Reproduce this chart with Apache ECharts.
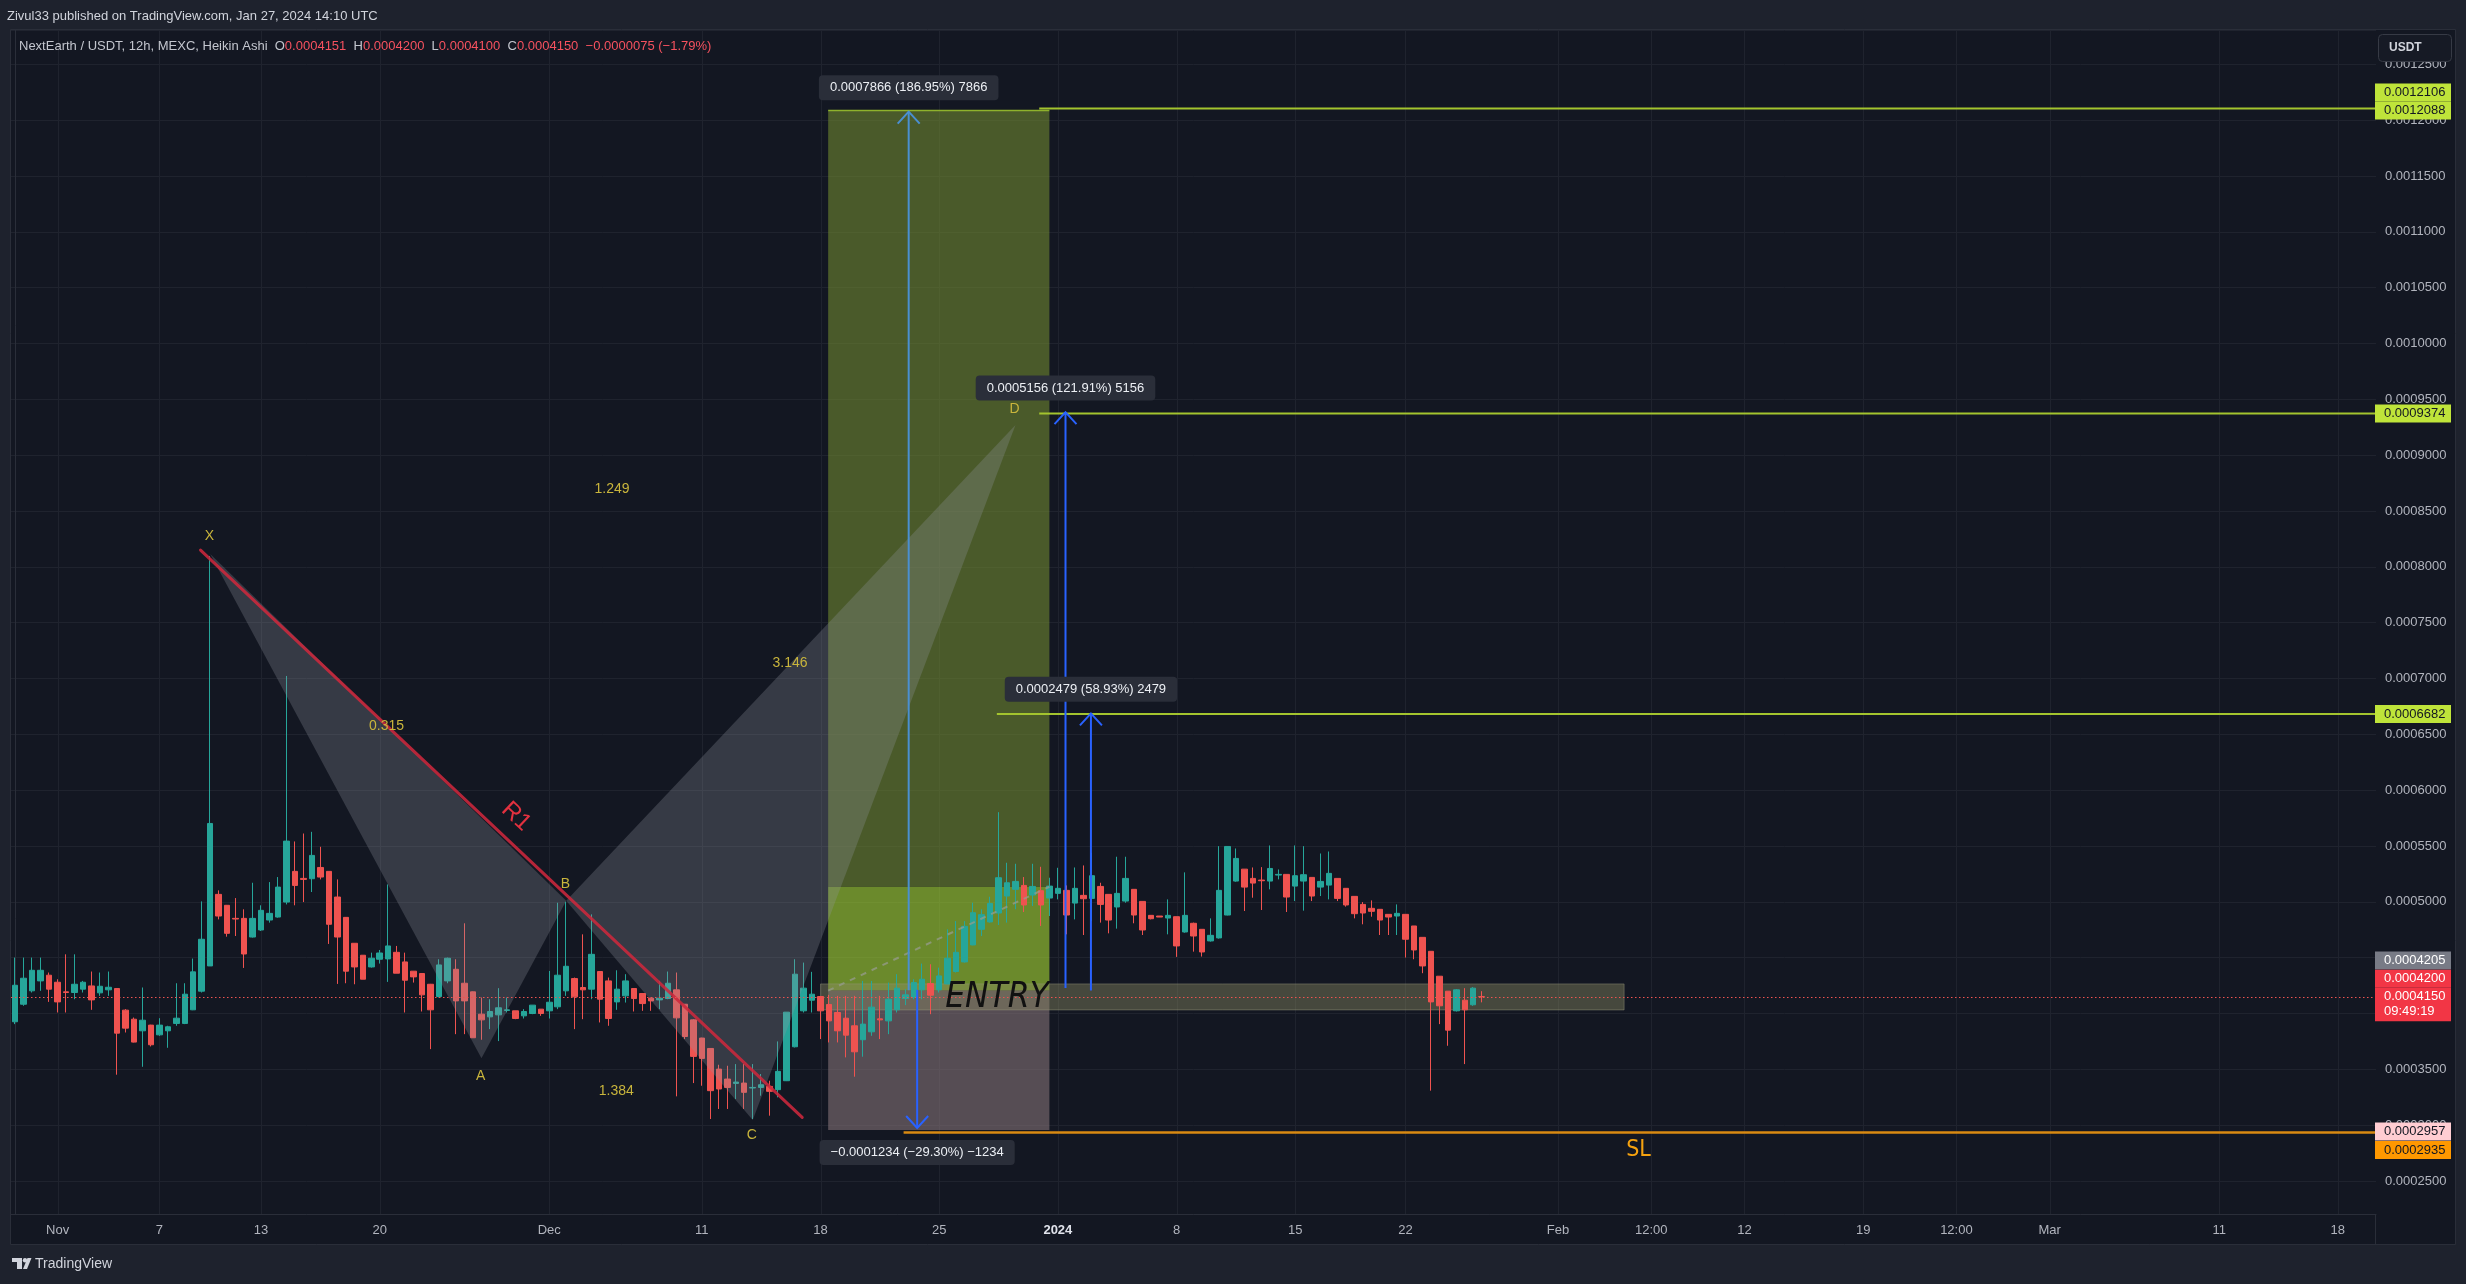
<!DOCTYPE html>
<html><head><meta charset="utf-8">
<script src="https://cdn.jsdelivr.net/npm/echarts@6/dist/echarts.min.js"></script>
<style>html,body{margin:0;padding:0;background:#1e222d;}#c{width:2466px;height:1284px;}</style>
</head><body><div id="c"></div>
<script>
// ---------- DATA (12h Heikin Ashi candles, NextEarth / USDT) ----------
const haOpen = [
0.0003926,0.0004083,0.0004203,0.0004292,0.0004343,0.0004280,0.0004194,0.0004188,0.0004218,0.0004247,
0.0004185,0.0004212,0.0004224,0.0004030,0.0003949,0.0003845,0.0003896,0.0003809,0.0003845,0.0003911,
0.0003911,0.0004033,0.0004200,0.0004426,0.0005067,0.0004969,0.0004852,0.0004852,0.0004685,0.0004748,
0.0004837,0.0004864,0.0004998,0.0005273,0.0005210,0.0005207,0.0005308,0.0005273,0.0005043,0.0004861,
0.0004629,0.0004522,0.0004417,0.0004486,0.0004489,0.0004548,0.0004462,0.0004379,0.0004358,0.0004262,
0.0004152,0.0004292,0.0004396,0.0004271,0.0004194,0.0003994,0.0003970,0.0003988,0.0004027,0.0004024,
0.0003979,0.0004000,0.0004039,0.0004024,0.0004060,0.0004203,0.0004313,0.0004233,0.0004218,0.0004376,
0.0004292,0.0004104,0.0004158,0.0004224,0.0004179,0.0004137,0.0004122,0.0004134,0.0004212,0.0004083,
0.0003943,0.0003780,0.0003687,0.0003502,0.0003413,0.0003374,0.0003377,0.0003333,0.0003338,0.0003347,
0.0003318,0.0003398,0.0003702,0.0004024,0.0004119,0.0004152,0.0004081,0.0004009,0.0003958,0.0003890,
0.0003765,0.0003836,0.0003952,0.0003934,0.0004033,0.0004134,0.0004143,0.0004212,0.0004268,0.0004212,
0.0004265,0.0004376,0.0004462,0.0004614,0.0004754,0.0004820,0.0004900,0.0005052,0.0005112,0.0005147,
0.0005061,0.0005100,0.0005034,0.0005076,0.0005103,0.0004989,0.0005058,0.0005031,0.0005138,0.0005067,
0.0004954,0.0005007,0.0005112,0.0005004,0.0004879,0.0004873,0.0004855,0.0004867,0.0004730,0.0004808,
0.0004754,0.0004650,0.0004677,0.0004882,0.0005186,0.0005293,0.0005210,0.0005195,0.0005186,0.0005240,
0.0005246,0.0005141,0.0005186,0.0005219,0.0005132,0.0005150,0.0005210,0.0005121,0.0005049,0.0004977,
0.0004942,0.0004933,0.0004888,0.0004873,0.0004888,0.0004784,0.0004682,0.0004557,0.0004334,0.0004200,
0.0004024,0.0004119,0.0004078,0.0004151];
const haClose = [
0.0004253,0.0004316,0.0004387,0.0004387,0.0004218,0.0004104,0.0004188,0.0004262,0.0004280,0.0004122,
0.0004244,0.0004235,0.0003824,0.0003869,0.0003744,0.0003940,0.0003720,0.0003896,0.0003881,0.0003958,
0.0004173,0.0004373,0.0004665,0.0005702,0.0004873,0.0004718,0.0004846,0.0004533,0.0004852,0.0004924,
0.0004897,0.0005132,0.0005544,0.0005147,0.0005201,0.0005416,0.0005222,0.0004799,0.0004685,0.0004379,
0.0004417,0.0004307,0.0004495,0.0004542,0.0004605,0.0004361,0.0004298,0.0004328,0.0004167,0.0004033,
0.0004435,0.0004495,0.0004113,0.0004113,0.0003783,0.0003943,0.0004018,0.0004051,0.0004033,0.0003955,
0.0004018,0.0004075,0.0004000,0.0004101,0.0004343,0.0004423,0.0004149,0.0004212,0.0004530,0.0004128,
0.0003955,0.0004218,0.0004292,0.0004134,0.0004089,0.0004113,0.0004137,0.0004271,0.0003961,0.0003794,
0.0003616,0.0003598,0.0003309,0.0003324,0.0003338,0.0003386,0.0003294,0.0003338,0.0003362,0.0003303,
0.0003482,0.0004012,0.0004352,0.0004227,0.0004173,0.0004024,0.0003934,0.0003845,0.0003806,0.0003657,
0.0003905,0.0004057,0.0003943,0.0004128,0.0004227,0.0004167,0.0004277,0.0004307,0.0004164,0.0004337,
0.0004495,0.0004548,0.0004781,0.0004903,0.0004885,0.0004986,0.0005216,0.0005171,0.0005183,0.0004972,
0.0005138,0.0004972,0.0005141,0.0005121,0.0004882,0.0005121,0.0005028,0.0005234,0.0004977,0.0004837,
0.0005076,0.0005210,0.0004882,0.0004748,0.0004849,0.0004864,0.0004879,0.0004605,0.0004879,0.0004694,
0.0004551,0.0004700,0.0005103,0.0005496,0.0005389,0.0005132,0.0005168,0.0005189,0.0005299,0.0005246,
0.0005043,0.0005234,0.0005243,0.0005052,0.0005183,0.0005255,0.0005031,0.0004972,0.0004894,0.0004900,
0.0004915,0.0004837,0.0004864,0.0004897,0.0004665,0.0004569,0.0004426,0.0004104,0.0004069,0.0003851,
0.0004212,0.0004033,0.0004227,0.0004150];
const haLow = [
0.0003905,0.0004069,0.0004188,0.0004203,0.0004104,0.0004009,0.0004009,0.0004128,0.0004188,0.0004033,
0.0004158,0.0004158,0.0003452,0.0003830,0.0003741,0.0003523,0.0003705,0.0003800,0.0003693,0.0003890,
0.0003905,0.0004030,0.0004188,0.0004426,0.0004843,0.0004688,0.0004694,0.0004408,0.0004680,0.0004739,
0.0004814,0.0004858,0.0004977,0.0004969,0.0004998,0.0005088,0.0005201,0.0004623,0.0004265,0.0004271,
0.0004262,0.0004307,0.0004411,0.0004447,0.0004283,0.0004361,0.0004009,0.0004277,0.0004018,0.0003681,
0.0004143,0.0004271,0.0003815,0.0003815,0.0003783,0.0003765,0.0003860,0.0003753,0.0004009,0.0003949,
0.0003955,0.0003994,0.0003979,0.0003955,0.0004039,0.0004158,0.0003860,0.0003949,0.0004128,0.0003920,
0.0003890,0.0004033,0.0004098,0.0004018,0.0004024,0.0004024,0.0004039,0.0004128,0.0003258,0.0003771,
0.0003377,0.0003353,0.0003055,0.0003145,0.0003145,0.0003234,0.0003145,0.0003055,0.0003264,0.0003085,
0.0003249,0.0003395,0.0003696,0.0004009,0.0004009,0.0003771,0.0003741,0.0003741,0.0003607,0.0003434,
0.0003613,0.0003800,0.0003771,0.0003815,0.0004009,0.0004075,0.0004128,0.0004128,0.0003994,0.0004188,
0.0004262,0.0004367,0.0004456,0.0004611,0.0004694,0.0004814,0.0004793,0.0004814,0.0004933,0.0004909,
0.0004963,0.0004784,0.0004873,0.0005022,0.0004709,0.0004843,0.0004703,0.0004828,0.0004814,0.0004718,
0.0004760,0.0004992,0.0004808,0.0004703,0.0004843,0.0004864,0.0004709,0.0004507,0.0004724,0.0004554,
0.0004510,0.0004644,0.0004671,0.0004879,0.0005180,0.0004918,0.0005037,0.0004927,0.0005112,0.0005201,
0.0004909,0.0005007,0.0004921,0.0005007,0.0005052,0.0005022,0.0005007,0.0004957,0.0004852,0.0004799,
0.0004867,0.0004703,0.0004703,0.0004703,0.0004501,0.0004486,0.0004361,0.0003309,0.0003905,0.0003711,
0.0004018,0.0003547,0.0004069,0.0004100];
const haHigh = [
0.0004501,0.0004501,0.0004501,0.0004501,0.0004367,0.0004307,0.0004530,0.0004530,0.0004292,0.0004376,
0.0004367,0.0004376,0.0004227,0.0004039,0.0003964,0.0004233,0.0003899,0.0003958,0.0003890,0.0004271,
0.0004271,0.0004492,0.0005004,0.0008097,0.0005103,0.0004972,0.0005034,0.0004933,0.0005171,0.0004969,
0.0005177,0.0005222,0.0007023,0.0005541,0.0005612,0.0005627,0.0005493,0.0005273,0.0005201,0.0004864,
0.0004629,0.0004522,0.0004545,0.0004569,0.0005156,0.0004605,0.0004545,0.0004379,0.0004361,0.0004265,
0.0004486,0.0004501,0.0004486,0.0004808,0.0004197,0.0004143,0.0004128,0.0004227,0.0004143,0.0004024,
0.0004039,0.0004075,0.0004039,0.0004381,0.0004992,0.0005001,0.0004322,0.0004709,0.0004888,0.0004376,
0.0004322,0.0004387,0.0004352,0.0004224,0.0004182,0.0004143,0.0004292,0.0004376,0.0004367,0.0004083,
0.0003949,0.0003783,0.0003687,0.0003541,0.0003532,0.0003547,0.0003547,0.0003547,0.0003458,0.0003398,
0.0003750,0.0004012,0.0004486,0.0004456,0.0004373,0.0004152,0.0004167,0.0004158,0.0004158,0.0004158,
0.0004292,0.0004292,0.0004158,0.0004277,0.0004352,0.0004218,0.0004307,0.0004447,0.0004441,0.0004411,
0.0004754,0.0004828,0.0004828,0.0004992,0.0004933,0.0005046,0.0005803,0.0005350,0.0005341,0.0005222,
0.0005341,0.0005314,0.0005216,0.0005305,0.0005147,0.0005308,0.0005326,0.0005439,0.0005171,0.0005067,
0.0005404,0.0005404,0.0005112,0.0005004,0.0004879,0.0004873,0.0005022,0.0004867,0.0005264,0.0004814,
0.0004754,0.0004852,0.0005499,0.0005496,0.0005478,0.0005293,0.0005308,0.0005311,0.0005505,0.0005290,
0.0005246,0.0005505,0.0005499,0.0005219,0.0005433,0.0005451,0.0005210,0.0005121,0.0005049,0.0004998,
0.0005013,0.0004933,0.0004888,0.0004977,0.0004888,0.0004784,0.0004682,0.0004557,0.0004334,0.0004200,
0.0004218,0.0004227,0.0004236,0.0004200];

// time scale: 12h bar slots (data + future space)
const N_SLOTS = 279;
const xTickIndex  = [5,17,29,43,63,81,95,109,123,137,151,164,182,193,204,218,229,240,260,274];
const xTickLabels = ['Nov','7','13','20','Dec','11','18','25','2024','8','15','22','Feb','12:00','12','19','12:00','Mar','11','18'];
const yMin = 0.00022044, yMax = 0.00128081;

// XABCD pattern, anchors as [bar index, price]
const patternNames = ['X','A','B','C','D'];
const patternPoints = [[23,0.0008115],[55,0.0003600],[65,0.0005010],[87,0.0003046],[118,0.0009270]];
const patternLabelPoints = [[22.9,0.0008276],[54.9,0.0003440],[64.9,0.0005160],[86.9,0.0002907],[117.9,0.0009411]];
const ratioTexts = ['0.315','1.249','1.384','3.146'];
const ratioPoints = [[43.8,0.0006575],[70.4,0.0008697],[70.9,0.0003306],[91.4,0.0007136]];
// trend line R1
const r1Line = [[21.86,0.000815],[92.84,0.000307]];
// long position tool
const positionBars = [95.9, 122.0];
const entryPrice = 0.0004205, targetPrice = 0.0012088, stopPrice = 0.0002957, closePrice = 0.0005135;
const entryZoneBars = [95, 189.8];
const entryZonePrices = [0.0004032, 0.0004265];
// horizontal levels
const levelPrices = [0.0012106, 0.0009374, 0.0006682];
const levelStartBars = [120.8, 120.8, 115.8];
const slPrice = 0.0002935, slStartBar = 104.8;
const lastPrice = 0.0004150;
const countdownText = '09:49:19';
// price-range measurements
const measureBars = [105.4, 106.4, 123.9, 126.9];
const measureFrom = [0.0004208, 0.0004212, 0.0004229, 0.0004207];
const measureTo   = [0.0012077, 0.0002975, 0.0009386, 0.0006688];
const measureTexts = ['0.0007866 (186.95%) 7866','\u22120.0001234 (\u221229.30%) \u22121234','0.0005156 (121.91%) 5156','0.0002479 (58.93%) 2479'];
// text notes
const noteTexts = ['R1','ENTRY','SL'];
const notePoints = [[59.1,0.0005763],[109.7,0.0004143],[191.5,0.0002778]];
// price-axis tags
const tagPrices = [0.0012106,0.0012088,0.0009374,0.0006682,0.0004205,0.0004200,0.0004150,0.0002957,0.0002935];

// ---------- STYLE ----------
const FONT = '"Liberation Sans", Arial, sans-serif';
const NARROW = '"Liberation Sans Narrow", "DejaVu Sans Condensed", "Liberation Sans", sans-serif';
const GRID = '#1f232e', BORDER = '#2a2e39', AXTXT = '#b2b5be';
const PAT_COL = '#c9b53c';
const LIME = '#a3c42e', LIME_TAG = '#bfe43a';
const tagStyle = [
  {bg:LIME_TAG, fg:'#131722', dy:-16},
  {bg:LIME_TAG, fg:'#131722', dy:0},
  {bg:LIME_TAG, fg:'#131722', dy:0},
  {bg:LIME_TAG, fg:'#131722', dy:0},
  {bg:'#787b86', fg:'#ffffff', dy:-30.2},
  {bg:'#f23645', fg:'#ffffff', dy:-12.5},
  {bg:'#f23645', fg:'#ffffff', dy:0, extra:true},
  {bg:'#ffcdd2', fg:'#131722', dy:1.6},
  {bg:'#ff9800', fg:'#131722', dy:17.7}
];

const candleData = haOpen.map((o, i) => [o, haClose[i], haLow[i], haHigh[i]]);
const cats = Array.from({length: N_SLOTS}, (_, i) => String(i));
const tickMap = new Map(xTickIndex.map((v, i) => [v, xTickLabels[i]]));
const last = haOpen.length - 1;

const chart = echarts.init(document.getElementById('c'), null, {renderer: 'canvas'});

const posZones = [[entryPrice, closePrice], [closePrice, targetPrice], [stopPrice, entryPrice]];
const posFill = ['rgba(166,215,52,0.6)', 'rgba(112,135,49,0.6)', 'rgba(131,113,119,0.6)'];

const option = {
  backgroundColor: '#1e222d',
  animation: false,
  grid: {left: 11, right: 90, top: 30, bottom: 70, show: false},
  xAxis: [
    {type: 'category', data: cats, boundaryGap: true,
     axisLine: {show: true, lineStyle: {color: BORDER}}, axisTick: {show: false}, splitLine: {show: false},
     axisLabel: {
       interval: (i) => tickMap.has(i),
       formatter: (v) => { const t = tickMap.get(Number(v)) || ''; return t === '2024' ? '{b|2024}' : t; },
       color: AXTXT, fontSize: 13, fontFamily: FONT, margin: 10,
       rich: {b: {fontWeight: 'bold', color: '#e0e3eb', fontSize: 13, fontFamily: FONT}}
     }},
    {type: 'value', min: -0.5, max: N_SLOTS - 0.5, show: false}
  ],
  yAxis: [{
    type: 'value', position: 'right', min: yMin, max: yMax, splitNumber: 21,
    axisLine: {show: true, lineStyle: {color: BORDER}}, axisTick: {show: false},
    splitLine: {show: true, lineStyle: {color: GRID, width: 1}},
    axisLabel: {margin: 9, color: AXTXT, fontSize: 13, fontFamily: FONT,
      formatter: (v) => v.toFixed(7), showMinLabel: false, showMaxLabel: false}
  }],
  series: [
    {type: 'custom', xAxisIndex: 1, yAxisIndex: 0, silent: true, z: 0,
     data: xTickIndex.map(i => [i]),
     renderItem(params, api) {
       const cs = params.coordSys;
       const x = Math.round(api.coord([api.value(0), yMin])[0]) + 0.5;
       return {type: 'line', shape: {x1: x, y1: cs.y, x2: x, y2: cs.y + cs.height}, style: {stroke: GRID, lineWidth: 1}};
     }},
    {type: 'custom', xAxisIndex: 1, yAxisIndex: 0, silent: true, z: 1,
     data: posZones.map((_, i) => [i]),
     renderItem(params, api) {
       const i = params.dataIndex, z = posZones[i];
       const a = api.coord([positionBars[0], z[1]]), b = api.coord([positionBars[1], z[0]]);
       const ch = [{type: 'rect', shape: {x: a[0], y: a[1], width: b[0] - a[0], height: b[1] - a[1]}, style: {fill: posFill[i]}}];
       if (i === 1) ch.push({type: 'line', shape: {x1: a[0], y1: a[1], x2: b[0], y2: a[1]}, style: {stroke: '#8fb22c', lineWidth: 1.5}});
       return {type: 'group', children: ch};
     }},
    {type: 'custom', xAxisIndex: 1, yAxisIndex: 0, silent: true, z: 1,
     data: [[0]],
     renderItem(params, api) {
       const a = api.coord([entryZoneBars[0], entryZonePrices[1]]), b = api.coord([entryZoneBars[1], entryZonePrices[0]]);
       return {type: 'rect', shape: {x: a[0], y: a[1], width: b[0] - a[0], height: b[1] - a[1]},
               style: {fill: 'rgba(140,140,100,0.42)', stroke: 'rgba(150,150,125,0.45)', lineWidth: 1}};
     }},
    {type: 'candlestick', xAxisIndex: 0, yAxisIndex: 0, data: candleData, barWidth: 6, z: 2,
     itemStyle: {color: '#26a69a', color0: '#ef5350', borderColor: '#26a69a', borderColor0: '#ef5350', borderWidth: 1}},
    {type: 'custom', xAxisIndex: 1, yAxisIndex: 0, silent: true, z: 3,
     data: [[0]],
     renderItem(params, api) {
       const a = api.coord([positionBars[0], entryPrice]), b = api.coord([positionBars[1], closePrice]);
       return {type: 'line', shape: {x1: a[0], y1: a[1], x2: b[0], y2: b[1]}, style: {stroke: 'rgba(150,155,140,0.75)', lineWidth: 2, lineDash: [6, 6]}};
     }},
    {type: 'custom', xAxisIndex: 1, yAxisIndex: 0, silent: true, z: 3,
     data: [[0], [1]],
     renderItem(params, api) {
       const ids = params.dataIndex === 0 ? [0, 1, 2] : [2, 3, 4];
       return {type: 'polygon', shape: {points: ids.map(k => api.coord(patternPoints[k]))},
               style: {fill: 'rgba(149,152,161,0.28)'}};
     }},
    {type: 'custom', xAxisIndex: 1, yAxisIndex: 0, silent: true, z: 4,
     data: [[0]],
     renderItem(params, api) {
       const a = api.coord(r1Line[0]), b = api.coord(r1Line[1]);
       return {type: 'line', shape: {x1: a[0], y1: a[1], x2: b[0], y2: b[1]}, style: {stroke: 'rgba(205,40,60,0.88)', lineWidth: 3, lineCap: 'round'}};
     }},
    {type: 'custom', xAxisIndex: 1, yAxisIndex: 0, silent: true, z: 4,
     data: levelPrices.map((_, i) => [i]),
     renderItem(params, api) {
       const i = params.dataIndex, cs = params.coordSys;
       const a = api.coord([levelStartBars[i], levelPrices[i]]);
       return {type: 'line', shape: {x1: a[0], y1: a[1], x2: cs.x + cs.width, y2: a[1]}, style: {stroke: LIME, lineWidth: 2}};
     }},
    {type: 'custom', xAxisIndex: 1, yAxisIndex: 0, silent: true, z: 4,
     data: [[0]],
     renderItem(params, api) {
       const cs = params.coordSys, a = api.coord([slStartBar, slPrice]);
       return {type: 'line', shape: {x1: a[0], y1: a[1], x2: cs.x + cs.width, y2: a[1]}, style: {stroke: '#d98a12', lineWidth: 2.5}};
     }},
    {type: 'custom', xAxisIndex: 1, yAxisIndex: 0, silent: true, z: 4,
     data: [[0]],
     renderItem(params, api) {
       const cs = params.coordSys, y = Math.round(api.coord([0, lastPrice])[1]) + 0.5;
       return {type: 'line', shape: {x1: cs.x, y1: y, x2: cs.x + cs.width, y2: y}, style: {stroke: '#ef5350', lineWidth: 1, lineDash: [1.5, 2.5]}};
     }},
    {type: 'custom', xAxisIndex: 1, yAxisIndex: 0, silent: true, z: 5,
     data: measureBars.map((_, i) => [i]),
     renderItem(params, api) {
       const i = params.dataIndex;
       const a = api.coord([measureBars[i], measureFrom[i]]), b = api.coord([measureBars[i], measureTo[i]]);
       const up = b[1] < a[1], d = up ? 12 : -12;
       const col = i === 0 ? '#4a8fd1' : '#2962ff';
       const ly = up ? b[1] - 24 : b[1] + 24.5;
       return {type: 'group', children: [
         {type: 'line', shape: {x1: a[0], y1: a[1], x2: b[0], y2: b[1]}, style: {stroke: col, lineWidth: 2}},
         {type: 'polyline', shape: {points: [[b[0] - 11, b[1] + d], [b[0], b[1]], [b[0] + 11, b[1] + d]]}, style: {stroke: col, lineWidth: 2, fill: 'none'}},
         {type: 'text', x: b[0], y: ly, style: {text: measureTexts[i], fill: '#eceff4', fontSize: 13, fontFamily: FONT,
           align: 'center', verticalAlign: 'middle', backgroundColor: '#2a2e39', padding: [6, 11], borderRadius: 4}}
       ]};
     }},
    {type: 'custom', xAxisIndex: 1, yAxisIndex: 0, silent: true, z: 6,
     data: patternNames.map((_, i) => [i]),
     renderItem(params, api) {
       const i = params.dataIndex, p = api.coord(patternLabelPoints[i]);
       return {type: 'text', x: p[0], y: p[1], style: {text: patternNames[i], fill: PAT_COL, fontSize: 14, fontFamily: FONT, align: 'center', verticalAlign: 'middle'}};
     }},
    {type: 'custom', xAxisIndex: 1, yAxisIndex: 0, silent: true, z: 6,
     data: ratioTexts.map((_, i) => [i]),
     renderItem(params, api) {
       const i = params.dataIndex, p = api.coord(ratioPoints[i]);
       return {type: 'text', x: p[0], y: p[1], style: {text: ratioTexts[i], fill: PAT_COL, fontSize: 14, fontFamily: FONT, align: 'center', verticalAlign: 'middle'}};
     }},
    {type: 'custom', xAxisIndex: 1, yAxisIndex: 0, silent: true, z: 6,
     data: noteTexts.map((_, i) => [i]),
     renderItem(params, api) {
       const i = params.dataIndex, p = api.coord(notePoints[i]);
       const st = [
         {fill: '#e2313f', fontSize: 24, fontFamily: FONT, align: 'center', rot: -0.755},
         {fill: '#111111', fontSize: 35, fontFamily: NARROW, fontStyle: 'italic', align: 'left', rot: 0},
         {fill: '#f5a20f', fontSize: 23, fontFamily: NARROW, align: 'center', rot: 0}
       ][i];
       return {type: 'text', x: p[0], y: p[1], rotation: st.rot,
         style: {text: noteTexts[i], fill: st.fill, fontSize: st.fontSize, fontFamily: st.fontFamily, fontStyle: st.fontStyle || 'normal', align: st.align, verticalAlign: 'middle'}};
     }},
    {type: 'custom', xAxisIndex: 1, yAxisIndex: 0, silent: true, z: 10, clip: false,
     data: tagPrices.map((_, i) => [i]),
     renderItem(params, api) {
       const i = params.dataIndex, cs = params.coordSys, s = tagStyle[i];
       const y = api.coord([0, tagPrices[i]])[1] + s.dy;
       const x0 = cs.x + cs.width;
       const h = s.extra ? 33.5 : 18;
       const ch = [
         {type: 'rect', shape: {x: x0 - 1, y: y - 9, width: 76, height: h}, style: {fill: s.bg}},
         {type: 'text', x: x0 + 8, y: y, style: {text: tagPrices[i].toFixed(7), fill: s.fg, fontSize: 13, fontFamily: FONT, verticalAlign: 'middle'}}
       ];
       if (s.extra) ch.push({type: 'text', x: x0 + 8, y: y + 15, style: {text: countdownText, fill: s.fg, fontSize: 13, fontFamily: FONT, verticalAlign: 'middle'}});
       return {type: 'group', children: ch};
     }}
  ],
  graphic: [
    {type: 'rect', z: -100, shape: {x: 10.5, y: 29.5, width: 2445, height: 1215}, style: {fill: '#131722', stroke: BORDER, lineWidth: 1}},
    {type: 'line', z: -99, shape: {x1: 2375.5, y1: 1214, x2: 2375.5, y2: 1244}, style: {stroke: BORDER, lineWidth: 1}},
    {type: 'text', z: 100, x: 7, y: 16, style: {text: 'Zivul33 published on TradingView.com, Jan 27, 2024 14:10 UTC', fill: '#d1d4dc', fontSize: 13, fontFamily: FONT, verticalAlign: 'middle'}},
    {type: 'text', z: 100, x: 19, y: 46, style: {
      text: '{g|NextEarth / USDT, 12h, MEXC, Heikin Ashi}  {g|O}{r|' + haOpen[last].toFixed(7) + '}  {g|H}{r|' + haHigh[last].toFixed(7) +
            '}  {g|L}{r|' + haLow[last].toFixed(7) + '}  {g|C}{r|' + haClose[last].toFixed(7) + '}  {r|\u22120.0000075 (\u22121.79%)}',
      fontSize: 13, fontFamily: FONT, verticalAlign: 'middle',
      rich: {g: {fill: '#c3c6ce', fontSize: 13, fontFamily: FONT}, r: {fill: '#f7525f', fontSize: 13, fontFamily: FONT}}}},
    {type: 'rect', z: 100, shape: {x: 2378.5, y: 34.5, width: 73, height: 27, r: 4}, style: {fill: '#161a25', stroke: '#363a45', lineWidth: 1}},
    {type: 'text', z: 101, x: 2389, y: 48, style: {text: 'USDT', fill: '#d1d4dc', fontSize: 12, fontWeight: 'bold', fontFamily: FONT, verticalAlign: 'middle'}},
    {type: 'rect', z: 100, shape: {x: 12, y: 1258, width: 10, height: 4}, style: {fill: '#d1d4dc'}},
    {type: 'rect', z: 100, shape: {x: 17, y: 1258, width: 5, height: 11}, style: {fill: '#d1d4dc'}},
    {type: 'circle', z: 100, shape: {cx: 25, cy: 1260.2, r: 2.2}, style: {fill: '#d1d4dc'}},
    {type: 'polygon', z: 100, shape: {points: [[23, 1269], [27.5, 1258], [31.5, 1258], [27, 1269]]}, style: {fill: '#d1d4dc'}},
    {type: 'text', z: 100, x: 35, y: 1264, style: {text: 'TradingView', fill: '#d1d4dc', fontSize: 14, fontFamily: FONT, verticalAlign: 'middle'}}
  ]
};
chart.setOption(option);
</script></body></html>
